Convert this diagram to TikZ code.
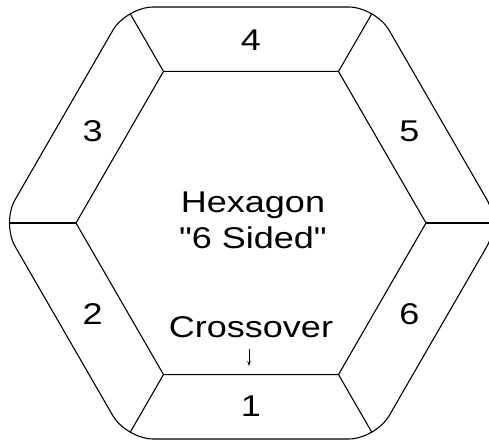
\documentclass[tikz,border=0pt]{standalone}
\usepackage{fontspec}
\newfontfamily\hexfont{Liberation Sans}[FakeStretch=1.2]
\usetikzlibrary{arrows.meta,calc}

\begin{document}
\begin{tikzpicture}[
  x=1pt, y=-1pt,
  edge/.style={line width=1.1pt, line join=round},
  num/.style={font=\hexfont\fontsize{30}{36}\selectfont, inner sep=0pt},
  lbl/.style={font=\hexfont\fontsize{30}{36}\selectfont, align=center, inner sep=0pt},
  arr/.style={-{Stealth[length=5pt,width=3.5pt]}, line width=0.9pt}
]
\useasboundingbox (0,0) rectangle (489,441);
\clip (0,0) rectangle (489,441);
\coordinate (c) at (251,223);
\foreach \i in {0,...,5} {
  \coordinate (in\i) at ($(c)+(\i*60:175)$);
  \coordinate (out\i) at ($(c)+(\i*60:241)$);
  \coordinate (sh\i) at ($(c)+(\i*60:249.4)$);
}
\coordinate (top) at ($(c)+(270:216)$);
% outer hexagon
\draw[edge, rounded corners=27] (top) -- (sh4) -- (sh3) -- (sh2) -- (sh1)
  -- (sh0) -- (sh5) -- cycle;
% inner hexagon
\draw[edge] (in0) -- (in1) -- (in2) -- (in3) -- (in4) -- (in5) -- cycle;
\foreach \i in {0,...,5}
  \draw[edge] (in\i) -- (out\i);
% side numbers
\foreach \a/\t in {30/6,90/1,150/2,210/3,270/4,330/5}
  \node[num] (n\t) at ($(c)+(\a:183)$) {\t};
\node[lbl] (title) at (253,220) {Hexagon\\"6 Sided"};
\node[lbl] (cross) at (251,327) {Crossover};
\coordinate (xe) at (249,366);
\draw[arr, shorten <=11pt] (cross.south -| xe) -- (xe);
\end{tikzpicture}
\end{document}
